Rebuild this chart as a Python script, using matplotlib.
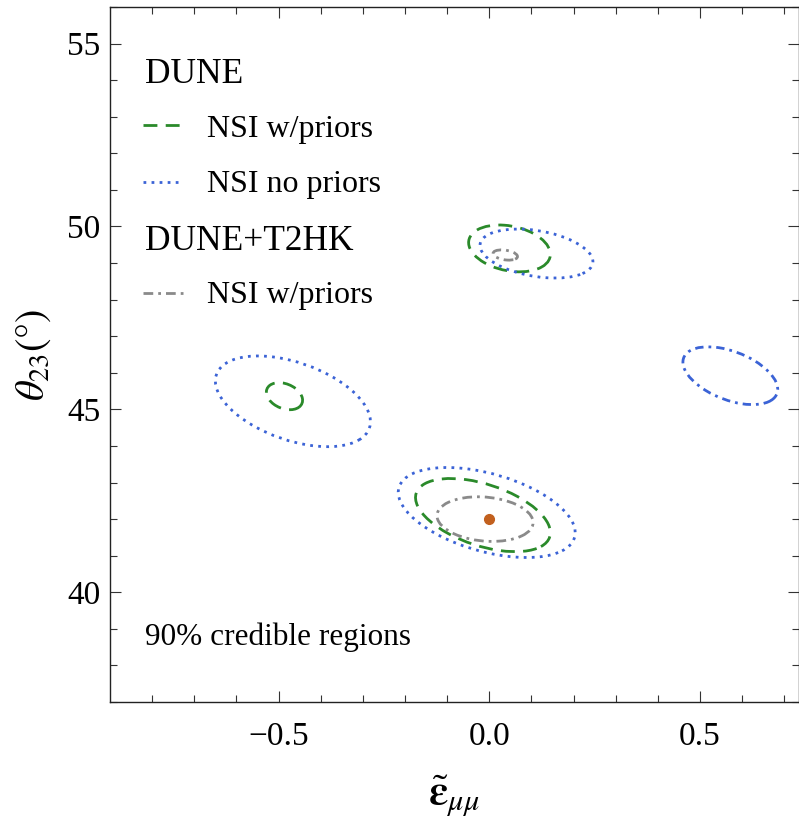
import numpy as np
import matplotlib
matplotlib.use("Agg")
import matplotlib.pyplot as plt
from matplotlib.patches import Ellipse
import matplotlib.transforms as transforms

plt.rcParams['font.family'] = ['Liberation Serif', 'DejaVu Serif']
plt.rcParams['mathtext.fontset'] = 'stix'

# 90% credible regions: centre, half-width in eps, half-height in theta23, correlation
regions = ["dune_prior_main", "dune_noprior_main",
           "combo_prior_main",
           "dune_prior_upper", "dune_noprior_upper", "combo_prior_upper",
           "dune_prior_left", "dune_noprior_left",
           "dune_noprior_right"]
center_x = [-0.015, -0.006, -0.010, 0.048, 0.112, 0.038, -0.486, -0.466, 0.572]
center_y = [42.11, 42.18, 42.00, 49.40, 49.26, 49.22, 45.36, 45.22, 45.92]
half_x = [0.160, 0.210, 0.114, 0.097, 0.134, 0.029, 0.043, 0.184, 0.1125]
half_y = [1.00, 1.23, 0.61, 0.64, 0.67, 0.14, 0.37, 1.24, 0.79]
rho = [-0.48, -0.45, -0.15, -0.25, -0.33, -0.30, -0.30, -0.45, -0.47]
kind = ["prior", "noprior", "combo", "prior", "noprior", "combo",
        "prior", "noprior", "noprior_alt"]

# true point
true_eps = [0.0]
true_theta = [42.0]

LW = 2.0
styles = {
    "prior": dict(color="#2a8a2a", ls=(0, (5, 3))),
    "noprior": dict(color="#3b63d6", ls=(0, (1, 1.9))),
    "combo": dict(color="#8a8a8a", ls=(0, (3.5, 1.8, 1, 1.8))),
    "noprior_alt": dict(color="#3b63d6", ls=(0, (3, 1.8, 1, 1.8))),
}

x_ticks = [-0.5, 0.0, 0.5]
y_ticks = [40, 45, 50, 55]


def credible_ellipse(ax, cx, cy, sx, sy, r, **kw):
    # unit ellipse rotated 45 deg then stretched: gives x/y extents of sx, sy
    ell = Ellipse((0, 0), width=2 * np.sqrt(1 + r), height=2 * np.sqrt(1 - r),
                  facecolor="none", lw=LW, **kw)
    tr = transforms.Affine2D().rotate_deg(45).scale(sx, sy).translate(cx, cy)
    ell.set_transform(tr + ax.transData)
    ax.add_patch(ell)


fig = plt.figure(figsize=(7.99, 8.24), dpi=100)
ax = fig.add_axes([110 / 799, 122 / 824, 689 / 799, 695 / 824])

for i in range(len(regions)):
    st = styles[kind[i]]
    credible_ellipse(ax, center_x[i], center_y[i], half_x[i], half_y[i], rho[i],
                     edgecolor=st["color"], linestyle=st["ls"])

ax.plot(true_eps, true_theta, "o", color="#c2601e", ms=7, zorder=5)

ax.set_xlim(-0.9, 0.735)
ax.set_ylim(37, 56)
ax.set_xticks(x_ticks)
ax.set_xticklabels([f"{v:.1f}".replace("-", "\u2212") for v in x_ticks])
ax.set_yticks(y_ticks)
ax.set_xticks(np.arange(-0.8, 0.75, 0.1), minor=True)
ax.set_yticks(np.arange(37, 57, 1), minor=True)
ax.tick_params(which="both", direction="in", top=True, right=True,
               labelsize=24, width=0.8, color="#333333")
ax.tick_params(which="major", length=8, pad=7)
ax.tick_params(which="minor", length=5)
ax.tick_params(axis="x", which="major", pad=14)
for sp in ax.spines.values():
    sp.set_linewidth(1.0)
    sp.set_color("#222222")

ax.set_xlabel(r"$\tilde{\boldsymbol{\varepsilon}}_{\mu\mu}$", fontsize=31, labelpad=16)
ax.set_ylabel(r"$\theta_{23}(°)$", fontsize=29, labelpad=10)

# legend drawn by hand: two experiment headers with their line samples
tr = ax.transAxes
ax.text(0.051, 0.8906, "DUNE", transform=tr, fontsize=25.5, va="baseline")
ax.plot([0.048, 0.106], [0.830, 0.830], transform=tr, lw=LW,
        color=styles["prior"]["color"], ls=styles["prior"]["ls"])
ax.text(0.141, 0.813, "NSI w/priors", transform=tr, fontsize=23, va="baseline")
ax.plot([0.048, 0.106], [0.748, 0.748], transform=tr, lw=LW,
        color=styles["noprior"]["color"], ls=styles["noprior"]["ls"])
ax.text(0.141, 0.734, "NSI no priors", transform=tr, fontsize=23, va="baseline")
ax.text(0.051, 0.650, "DUNE+T2HK", transform=tr, fontsize=25.5, va="baseline")
ax.plot([0.048, 0.106], [0.588, 0.588], transform=tr, lw=LW,
        color=styles["combo"]["color"], ls=styles["combo"]["ls"])
ax.text(0.141, 0.574, "NSI w/priors", transform=tr, fontsize=23, va="baseline")
ax.text(0.051, 0.082, "90% credible regions", transform=tr, fontsize=22.5, va="baseline")

fig.savefig("out.png", dpi=100)
